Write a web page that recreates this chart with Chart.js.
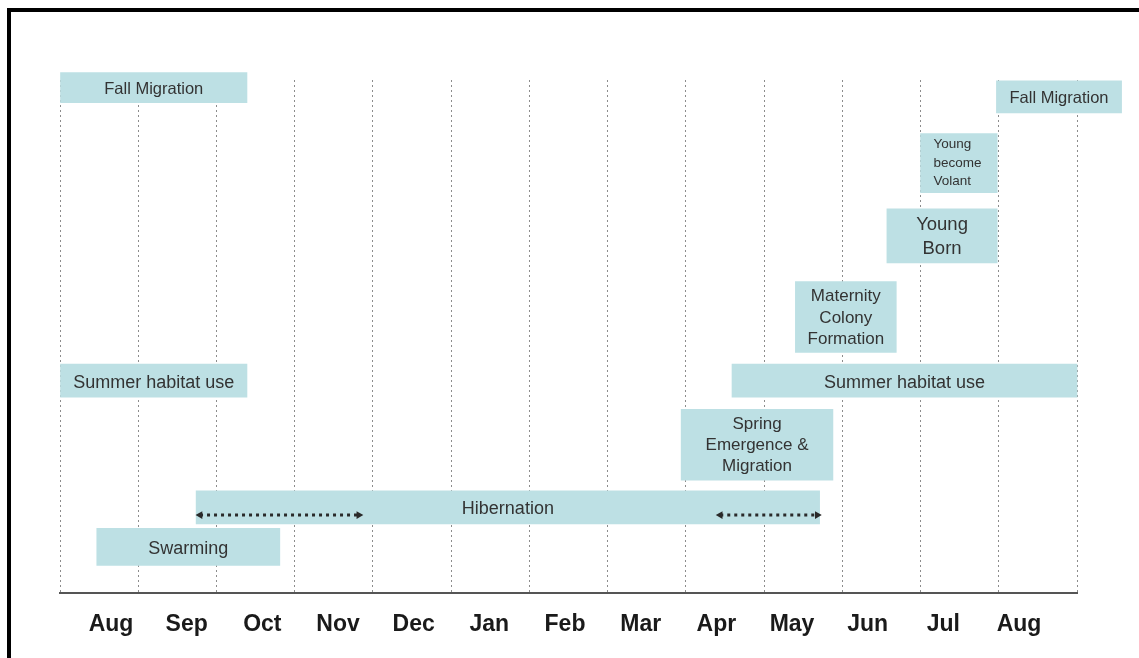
<!DOCTYPE html>
<html><head><meta charset="utf-8">
<script src="https://cdn.jsdelivr.net/npm/chart.js@4.4.1/dist/chart.umd.min.js"></script>
<style>
html,body{margin:0;padding:0;background:#fff;overflow:hidden;}
#wrap{position:relative;width:1139px;height:658px;}
#frame{position:absolute;left:7px;top:8px;right:0;bottom:0;border-left:4px solid #000;border-top:4px solid #000;pointer-events:none;}
canvas{position:absolute;left:0;top:0;}
</style></head><body>
<div id="wrap"><canvas id="c" width="1139" height="658"></canvas><div id="frame"></div></div>
<script>
// Month tick labels (x axis runs from start of Aug = 0 to end of following Jul = 13)
const months = ['Aug','Sep','Oct','Nov','Dec','Jan','Feb','Mar','Apr','May','Jun','Jul','Aug'];

// Activities (text in bars)
const activities = [
  'Fall Migration',
  'Fall Migration',
  'Young\nbecome\nVolant',
  'Young\nBorn',
  'Maternity\nColony\nFormation',
  'Summer habitat use',
  'Summer habitat use',
  'Spring\nEmergence &\nMigration',
  'Hibernation',
  'Swarming'
];
// start / end in months from start of August
const startMonth = [0.00, 11.97, 11.00, 10.57, 9.40, 0.00, 8.59, 7.94, 1.74, 0.47];
const endMonth   = [2.39, 13.57, 11.98, 11.98, 10.69, 2.39, 13.00, 9.88, 9.71, 2.81];
// vertical level of each activity row (0 bottom .. 10 top)
const rowLevel   = [9.85, 9.67, 8.38, 6.96, 5.38, 4.14, 4.14, 2.89, 1.67, 0.90];

// Hibernation dotted arrows
const arrowStart = [1.79, 8.44];
const arrowEnd   = [3.82, 9.68];
const arrowLevel = [1.52, 1.52];

// ---- styles (kept separate from data) ----
const barPx = [30, 32, 59, 54, 71, 33, 33, 71, 33, 37];
const labelStyle = [
  {size:16.5, lh:20, dy:2},
  {size:16.5, lh:20, dy:2},
  {size:13.5, lh:18.5, dy:0, align:'left', pad:13},
  {size:18.5, lh:24, dy:1},
  {size:17, lh:21.5, dy:1},
  {size:18, lh:20, dy:2},
  {size:18, lh:20, dy:2},
  {size:17, lh:21, dy:1},
  {size:18, lh:20, dy:2},
  {size:18, lh:20, dy:2}
];
const BAR_COLOR = '#bde0e4';
const FONT = '"Liberation Sans", Arial, sans-serif';

const barSets = activities.map((name, i) => ({
  type: 'bar',
  label: name,
  indexAxis: 'y',
  data: [{x: [startMonth[i], endMonth[i]], y: rowLevel[i]}],
  backgroundColor: BAR_COLOR,
  borderWidth: 0,
  barThickness: barPx[i],
  stack: 'timeline',
  clip: false,
  order: 2,
  xAxisID: 'x',
  yAxisID: 'y'
}));

const arrowSets = arrowStart.map((s, i) => ({
  type: 'line',
  label: 'arrow' + i,
  data: [{x: arrowStart[i], y: arrowLevel[i]}, {x: arrowEnd[i], y: arrowLevel[i]}],
  borderColor: '#2a2a2a',
  borderWidth: 3,
  borderDash: [3, 4],
  pointStyle: 'triangle',
  pointRotation: [-90, 90],
  pointRadius: 4.5,
  pointBackgroundColor: '#2a2a2a',
  pointBorderColor: '#2a2a2a',
  pointBorderWidth: 0,
  fill: false,
  tension: 0,
  clip: false,
  order: 0,
  xAxisID: 'x',
  yAxisID: 'y'
}));

const labelPlugin = {
  id: 'barLabels',
  afterDatasetsDraw(chart) {
    const ctx = chart.ctx;
    chart.data.datasets.forEach((ds, i) => {
      if (ds.type !== 'bar') return;
      const el = chart.getDatasetMeta(i).data[0];
      if (!el) return;
      const st = labelStyle[i];
      const lines = activities[i].split('\n');
      const left = Math.min(el.x, el.base), right = Math.max(el.x, el.base);
      ctx.save();
      ctx.font = st.size + 'px ' + FONT;
      ctx.fillStyle = '#333';
      ctx.textBaseline = 'middle';
      let x;
      if (st.align === 'left') { ctx.textAlign = 'left'; x = left + st.pad; }
      else { ctx.textAlign = 'center'; x = (left + right) / 2; }
      const y0 = el.y - (lines.length - 1) * st.lh / 2 + st.dy;
      lines.forEach((t, k) => ctx.fillText(t, x, y0 + k * st.lh));
      ctx.restore();
    });
  }
};

new Chart(document.getElementById('c'), {
  type: 'bar',
  data: { datasets: [...barSets, ...arrowSets] },
  options: {
    responsive: false,
    devicePixelRatio: 1,
    animation: false,
    events: [],
    layout: { padding: { top: 80, left: 60, right: 62, bottom: 0 } },
    plugins: { legend: { display: false }, tooltip: { enabled: false } },
    scales: {
      x: {
        type: 'linear', axis: 'x', position: 'bottom', weight: 0,
        min: 0, max: 13, stacked: false, offset: false,
        afterBuildTicks: s => { s.ticks = Array.from({length: 14}, (_, i) => ({value: i})); },
        ticks: { display: false },
        grid: { color: '#8c8c8c', lineWidth: 1, drawTicks: false, offset: false },
        border: { display: true, color: '#555', width: 2, dash: [2, 3] }
      },
      xl: {
        type: 'linear', axis: 'x', position: 'bottom', weight: 1,
        min: -0.174, max: 13.266, offset: false,
        afterBuildTicks: s => { s.ticks = months.map((m, i) => ({value: i + 0.5})); },
        afterFit: s => { s.height = 65; },
        ticks: {
          autoSkip: false, maxRotation: 0, padding: 18,
          color: '#1a1a1a',
          font: { family: FONT, size: 23, weight: 'bold' },
          callback: (v, idx) => months[idx]
        },
        grid: { display: false, drawTicks: false, offset: false },
        border: { display: false }
      },
      y: {
        type: 'linear', axis: 'y', display: false, min: 0, max: 10,
        offset: false, grid: { offset: false }
      }
    }
  },
  plugins: [labelPlugin]
});
</script>
</body></html>
